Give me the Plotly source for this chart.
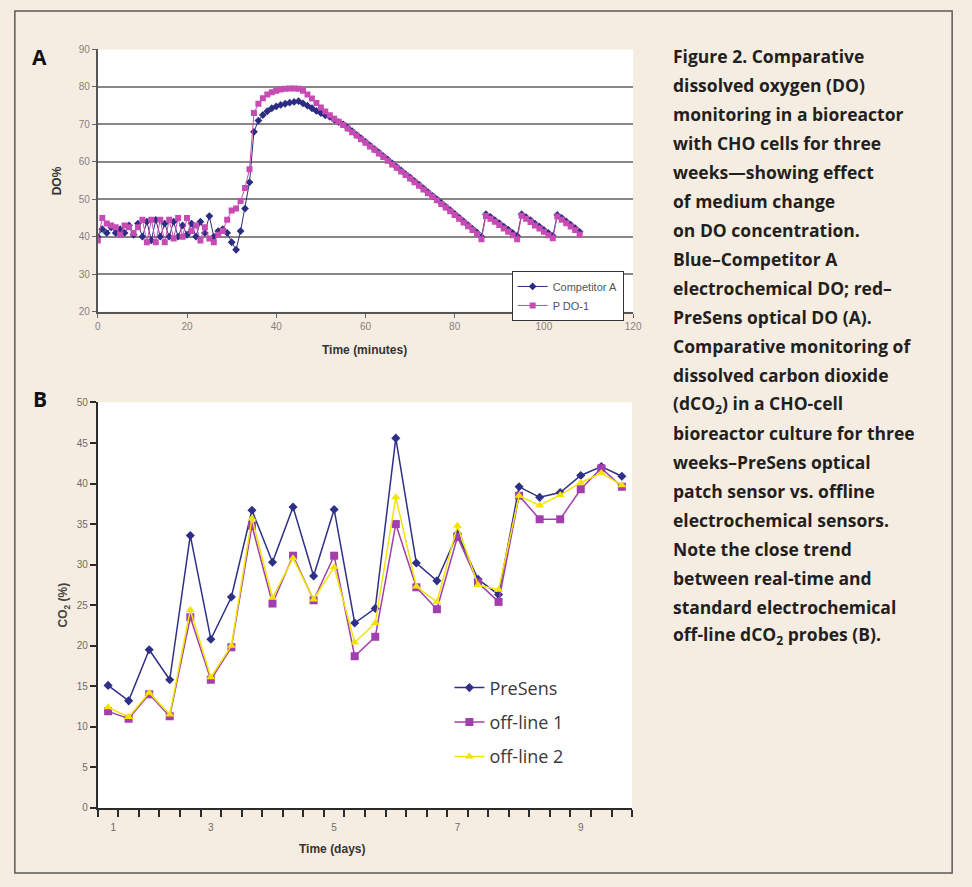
import plotly.graph_objects as go

# ---------------- Panel A data (DO %, one reading per minute) ----------------
minutes = list(range(0, 109))
competitor_a = [
    40.0, 42.0, 41.0, 42.5, 41.0, 42.0, 41.0, 43.0, 40.5, 43.5,
    40.0, 44.0, 39.0, 44.5, 40.0, 43.5, 40.0, 44.0, 40.0, 43.0,
    40.5, 43.5, 40.0, 44.0, 41.0, 45.5, 40.0, 41.5, 42.0, 41.0,
    38.5, 36.5, 41.5, 47.5, 54.5, 68.0, 71.0, 72.5, 73.5, 74.3,
    74.8, 75.2, 75.5, 75.8, 76.0, 76.2, 75.6, 75.0, 74.3, 73.6,
    73.0, 72.4, 72.0, 71.3, 70.6, 70.0, 69.1, 68.2, 67.2, 66.3,
    65.3, 64.4, 63.4, 62.5, 61.5, 60.6, 59.6, 58.6, 57.7, 56.7,
    55.8, 54.8, 53.9, 52.9, 51.9, 50.9, 50.0, 49.0, 48.0, 47.1,
    46.1, 45.1, 44.1, 43.1, 42.1, 41.1, 40.0, 46.0, 45.3, 44.4,
    43.6, 42.7, 41.9, 41.0, 40.2, 46.0, 45.2, 44.4, 43.5, 42.7,
    41.8, 41.0, 40.2, 45.8, 45.0, 44.1, 43.2, 42.3, 41.3,
]
p_do1 = [
    39.0, 45.0, 43.5, 43.0, 42.5, 40.5, 43.0, 42.5, 41.0, 42.5,
    44.5, 38.5, 44.5, 38.5, 44.5, 38.5, 44.5, 39.5, 45.0, 40.0,
    45.0, 41.5, 43.0, 39.0, 42.5, 39.5, 38.5, 40.5, 41.5, 44.5,
    47.0, 47.5, 49.5, 53.0, 58.0, 73.0, 75.5, 77.0, 78.0, 78.6,
    79.0, 79.3, 79.5, 79.6, 79.6, 79.5, 79.0, 78.0, 76.9, 75.7,
    74.5, 73.4, 72.4, 71.5, 70.7, 69.8, 68.9, 67.9, 67.0, 66.0,
    65.1, 64.1, 63.2, 62.2, 61.3, 60.3, 59.3, 58.4, 57.4, 56.5,
    55.5, 54.5, 53.6, 52.6, 51.6, 50.7, 49.7, 48.7, 47.8, 46.8,
    45.8, 44.8, 43.8, 42.8, 41.8, 40.7, 39.3, 45.5, 44.8, 44.0,
    43.1, 42.2, 41.3, 40.4, 39.3, 45.6, 44.8, 43.9, 43.0, 42.2,
    41.3, 40.4, 39.6, 45.4, 44.5, 43.6, 42.7, 41.8, 40.6,
]
a_xticks = [0, 20, 40, 60, 80, 100, 120]
a_yticks = [20, 30, 40, 50, 60, 70, 80, 90]

# ---------------- Panel B data (CO2 %, 26 samples) ----------------
samples = list(range(26))
presens = [15.1, 13.2, 19.5, 15.8, 33.6, 20.8, 26.0, 36.7, 30.3, 37.1, 28.6, 36.8, 22.8,
           24.6, 45.6, 30.2, 28.0, 33.8, 28.2, 26.3, 39.6, 38.3, 38.9, 41.0, 42.1, 40.9]
offline1 = [11.9, 11.0, 14.0, 11.3, 23.5, 15.8, 19.8, 34.8, 25.2, 31.1, 25.6, 31.1, 18.7,
            21.1, 35.0, 27.2, 24.5, 33.4, 27.8, 25.4, 38.5, 35.6, 35.6, 39.3, 41.9, 39.6]
offline2 = [12.4, 11.2, 14.2, 11.5, 24.4, 16.1, 20.0, 35.7, 25.9, 30.8, 25.7, 29.7, 20.4,
            22.8, 38.3, 27.3, 25.4, 34.8, 27.5, 26.9, 38.5, 37.3, 38.6, 40.1, 41.3, 39.8]
day_tick_pos = [0.25, 5, 11, 17, 23]
day_tick_labels = ["1", "3", "5", "7", "9"]

caption_lines = [
    "Figure 2. Comparative",
    "dissolved oxygen (DO)",
    "monitoring in a bioreactor",
    "with CHO cells for three",
    "weeks\u2014showing effect",
    "of medium change",
    "on DO concentration.",
    "Blue\u2013Competitor A",
    "electrochemical DO; red\u2013",
    "PreSens optical DO (A).",
    "Comparative monitoring of",
    "dissolved carbon dioxide",
    "(dCO<sub>2</sub>) in a CHO-cell",
    "bioreactor culture for three",
    "weeks\u2013PreSens optical",
    "patch sensor vs. offline",
    "electrochemical sensors.",
    "Note the close trend",
    "between real-time and",
    "standard electrochemical",
    "off-line dCO<sub>2</sub> probes (B).",
]

W, H = 972, 887
BG = "#F6EDE2"

fig = go.Figure()

# Panel A traces
fig.add_trace(go.Scatter(
    x=minutes, y=competitor_a, name="Competitor A", mode="lines+markers",
    line=dict(color="#2B2C82", width=1),
    marker=dict(symbol="diamond", size=6, color="#2B2C82"),
    xaxis="x", yaxis="y", legend="legend"))
fig.add_trace(go.Scatter(
    x=minutes, y=p_do1, name="P DO-1", mode="lines+markers",
    line=dict(color="#C64BB2", width=1),
    marker=dict(symbol="square", size=6, color="#C64BB2"),
    xaxis="x", yaxis="y", legend="legend"))

# Panel B traces
fig.add_trace(go.Scatter(
    x=samples, y=presens, name="PreSens", mode="lines+markers",
    line=dict(color="#2E3088", width=1.5),
    marker=dict(symbol="diamond", size=7, color="#2E3088"),
    xaxis="x2", yaxis="y2", legend="legend2", legendgroup="g1"))
fig.add_trace(go.Scatter(
    x=samples, y=offline1, name="off-line 1", mode="lines+markers",
    line=dict(color="#A33EAE", width=1.5),
    marker=dict(symbol="square", size=8, color="#A33EAE"),
    xaxis="x2", yaxis="y2", legend="legend2", legendgroup="g2"))
fig.add_trace(go.Scatter(
    x=samples, y=offline2, name="off-line 2", mode="lines+markers",
    line=dict(color="#F2E400", width=1.5),
    marker=dict(symbol="triangle-up", size=8, color="#F2E400"),
    xaxis="x2", yaxis="y2", legend="legend2", legendgroup="g3"))

def px_x(p):
    return p / W

def px_y(p):
    return 1 - p / H

tickfontA = dict(family="Liberation Sans, Arial", size=10, color="#8A7E80")
tickfontB = dict(family="Liberation Sans, Arial", size=10, color="#6E6A6A")

fig.update_layout(
    width=W, height=H, autosize=False,
    margin=dict(l=0, r=0, t=0, b=0),
    paper_bgcolor=BG, plot_bgcolor="white",
    xaxis=dict(domain=[px_x(96), px_x(638)], range=[0, 120], tickvals=a_xticks,
               ticks="outside", ticklen=4, tickcolor="#666", tickwidth=1,
               showline=True, linecolor="#555", linewidth=2, showgrid=False,
               zeroline=False, tickfont=tickfontA, anchor="y"),
    yaxis=dict(domain=[px_y(310), px_y(45)], range=[20, 90], tickvals=a_yticks,
               ticks="outside", ticklen=4, tickcolor="#666", tickwidth=1,
               showline=True, linecolor="#555", linewidth=2,
               showgrid=True, gridcolor="#8A8684", gridwidth=2,
               zeroline=False, tickfont=tickfontA, anchor="x"),
    xaxis2=dict(domain=[px_x(96), px_x(637)], range=[-0.5, 25.5],
                tickmode="array", tickvals=day_tick_pos, ticktext=day_tick_labels,
                ticks="", ticklabelstandoff=9,
                showline=True, linecolor="#2A2A2A", linewidth=2,
                showgrid=False, zeroline=False, tickfont=tickfontB, anchor="y2",
                minor=dict(ticks="outside", tickmode="linear", tick0=-0.5, dtick=1,
                           ticklen=7, tickwidth=2, tickcolor="#2A2A2A", showgrid=False)),
    yaxis2=dict(domain=[px_y(812), px_y(402)], range=[0, 50], dtick=5, tick0=0,
                ticks="outside", ticklen=6, tickwidth=2, tickcolor="#2A2A2A",
                showline=True, linecolor="#2A2A2A", linewidth=2,
                showgrid=False, zeroline=False, tickfont=tickfontB, anchor="x2"),
    legend=dict(x=px_x(515), y=px_y(269), xanchor="left", yanchor="top",
                bgcolor="white", bordercolor="#333", borderwidth=1,
                font=dict(family="Liberation Sans, Arial", size=11, color="#555"),
                itemwidth=30, tracegroupgap=0),
    legend2=dict(x=px_x(452), y=px_y(672), xanchor="left", yanchor="top",
                 bgcolor="rgba(255,255,255,0)", borderwidth=0,
                 font=dict(family="Open Sans, Liberation Sans", size=18, color="#3A3A3A"),
                 itemwidth=30, tracegroupgap=8),
    showlegend=True,
)

annotations = []
# panel letters
annotations.append(dict(x=px_x(37), y=px_y(53), xref="paper", yref="paper", text="<b>A</b>",
                        showarrow=False, xanchor="center", yanchor="middle",
                        font=dict(family="Open Sans", size=21, color="#111")))
annotations.append(dict(x=px_x(37), y=px_y(398), xref="paper", yref="paper", text="<b>B</b>",
                        showarrow=False, xanchor="center", yanchor="middle",
                        font=dict(family="Open Sans", size=21, color="#111")))
# axis titles
annotations.append(dict(x=px_x(55), y=px_y(178), xref="paper", yref="paper", text="<b>DO%</b>",
                        showarrow=False, textangle=-90, xanchor="center", yanchor="middle",
                        font=dict(family="Liberation Sans, Arial", size=12, color="#333")))
annotations.append(dict(x=px_x(366), y=px_y(349), xref="paper", yref="paper",
                        text="<b>Time (minutes)</b>", showarrow=False,
                        xanchor="center", yanchor="middle",
                        font=dict(family="Liberation Sans, Arial", size=12, color="#333")))
annotations.append(dict(x=px_x(62), y=px_y(607), xref="paper", yref="paper",
                        text="<b>CO<sub>2</sub> (%)</b>", showarrow=False, textangle=-90,
                        xanchor="center", yanchor="middle",
                        font=dict(family="Liberation Sans, Arial", size=12, color="#444")))
annotations.append(dict(x=px_x(333), y=px_y(854), xref="paper", yref="paper",
                        text="<b>Time (days)</b>", showarrow=False,
                        xanchor="center", yanchor="middle",
                        font=dict(family="Liberation Sans, Arial", size=12, color="#333")))
# caption
for k, line in enumerate(caption_lines):
    annotations.append(dict(x=px_x(676), y=px_y(52 + 29.3 * k), xref="paper", yref="paper",
                            text="<b>" + line + "</b>", showarrow=False,
                            xanchor="left", yanchor="middle", align="left",
                            font=dict(family="Open Sans", size=17.5, color="#231F20")))
fig.update_layout(annotations=annotations)

# frame
fig.add_shape(type="rect", xref="paper", yref="paper",
              x0=px_x(12), x1=px_x(961), y0=px_y(878), y1=px_y(6),
              line=dict(color="#5A5A5A", width=1.5), fillcolor="rgba(0,0,0,0)", layer="above")

fig.write_html(
    "out.html",
    config={"displayModeBar": False},
    post_script="document.body.style.margin='0';document.body.style.overflow='hidden';"
                "document.documentElement.style.overflow='hidden';",
)
